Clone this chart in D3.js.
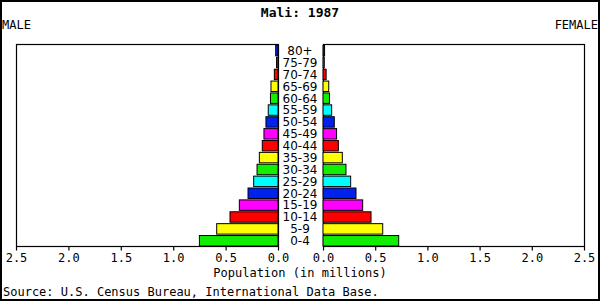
<!DOCTYPE html>
<html>
  <head>
    <meta charset="utf-8">
    <title>Mali: 1987</title>
    <style media="screen">
    body{margin:0;background:#fff}
    svg{display:block}
    text{fill:#000}
    .mono{font-family:"DejaVu Sans Mono",monospace;font-size:12px}
    .age{font-family:"DejaVu Sans",sans-serif;font-size:12px}
    </style>
  </head>
  <body>
    <svg width="600" height="301"></svg>
    <script src="https://d3js.org/d3.v7.min.js"></script>
    <script>

    // age groups, bottom to top
    var ages = ["0-4","5-9","10-14","15-19","20-24","25-29","30-34","35-39","40-44",
                "45-49","50-54","55-59","60-64","65-69","70-74","75-79","80+"];
    // population in millions
    var male   = [0.750,0.585,0.458,0.369,0.286,0.232,0.200,0.178,0.150,
                  0.134,0.115,0.093,0.072,0.067,0.035,0.014,0.022];
    var female = [0.725,0.572,0.460,0.380,0.316,0.265,0.220,0.185,0.147,
                  0.130,0.108,0.083,0.062,0.055,0.030,0.012,0.015];
    var ticks = [0, 0.5, 1.0, 1.5, 2.0, 2.5];
    var palette = ["#11ee00","#ffff00","#ff0000","#ff00ff","#0022ee","#00ffff"];

    var plotTop = 44, plotBottom = 246;
    var svg = d3.select("svg");

    // outer frame
    svg.append("rect").attr("x",1).attr("y",1).attr("width",598).attr("height",299)
      .attr("fill","none").attr("stroke","#000").attr("stroke-width",2);

    var y = d3.scaleBand().domain(ages).range([plotBottom, plotTop]).paddingInner(0.12).paddingOuter(0.06).align(1);
    var xL = d3.scaleLinear().domain([0, 2.5]).range([278, 16]);
    var xR = d3.scaleLinear().domain([0, 2.5]).range([323, 584]);

    // panel boxes
    [xL, xR].forEach(function(s) {
      var r = s.range();
      svg.append("rect").attr("x", Math.min(r[0], r[1]) + 0.5).attr("y", plotTop + 0.5)
        .attr("width", Math.abs(r[1] - r[0])).attr("height", plotBottom - plotTop)
        .attr("fill","none").attr("stroke","#000").attr("stroke-width",1.2);
    });

    var colorOf = function(i) { return palette[i % palette.length]; };

    svg.append("g").selectAll("rect").data(male).join("rect")
      .attr("x", function(d) { return xL(d); })
      .attr("y", function(d, i) { return y(ages[i]); })
      .attr("width", function(d) { return xL(0) - xL(d); })
      .attr("height", y.bandwidth())
      .attr("fill", function(d, i) { return colorOf(i); })
      .attr("stroke","#000").attr("stroke-width",1);

    svg.append("g").selectAll("rect").data(female).join("rect")
      .attr("x", xR(0))
      .attr("y", function(d, i) { return y(ages[i]); })
      .attr("width", function(d) { return xR(d) - xR(0); })
      .attr("height", y.bandwidth())
      .attr("fill", function(d, i) { return colorOf(i); })
      .attr("stroke","#000").attr("stroke-width",1);

    // age labels in the middle
    svg.append("g").selectAll("text").data(ages).join("text")
      .attr("class","age")
      .attr("x", 300)
      .attr("y", function(d) { return y(d) + y.bandwidth() / 2; })
      .attr("dy","0.36em")
      .attr("text-anchor","middle")
      .text(function(d) { return d; });

    // bottom axes
    [xL, xR].forEach(function(s) {
      var ax = svg.append("g").attr("transform","translate(0," + (plotBottom + 0.5) + ")")
        .call(d3.axisBottom(s).tickValues(ticks).tickFormat(d3.format(".1f")).tickSize(4).tickPadding(3));
      ax.select(".domain").remove();
      ax.selectAll("line").attr("stroke","#000").attr("stroke-width",1.2);
      ax.selectAll("text").attr("class","mono").attr("font-size",null).attr("font-family",null);
    });

    svg.append("text").attr("class","mono").attr("x",300).attr("y",12).attr("dy","0.35em")
      .attr("text-anchor","middle").attr("font-weight","bold").style("font-size","13px").text("Mali: 1987");
    svg.append("text").attr("class","mono").attr("x",2).attr("y",29).text("MALE");
    svg.append("text").attr("class","mono").attr("x",598).attr("y",29).attr("text-anchor","end").text("FEMALE");
    svg.append("text").attr("class","mono").attr("x",300).attr("y",277).attr("text-anchor","middle")
      .text("Population (in millions)");
    svg.append("text").attr("class","mono").attr("x",3).attr("y",296).text("Source: U.S. Census Bureau, International Data Base.");

    </script>
  </body>
</html>
